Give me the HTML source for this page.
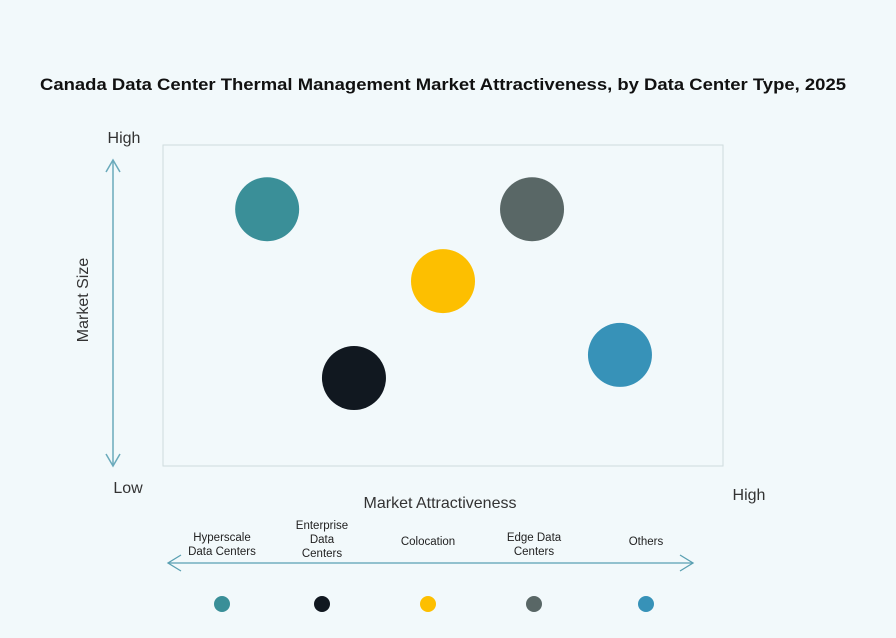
<!DOCTYPE html>
<html><head><meta charset="utf-8"><style>
body{margin:0;background:#f2f9fb;}
svg{display:block;font-family:"Liberation Sans",sans-serif;}
</style></head><body>
<svg id="c" width="896" height="638" viewBox="0 0 896 638">
<rect width="896" height="638" fill="#f2f9fb"/>
<text x="443" y="90" text-anchor="middle" font-size="16.5" font-weight="bold" fill="#111" textLength="806" lengthAdjust="spacingAndGlyphs">Canada Data Center Thermal Management Market Attractiveness,  by Data Center Type, 2025</text>
<rect x="163" y="145" width="560" height="321" fill="none" stroke="#cfdcde" stroke-width="1"/>
<text x="124" y="143" text-anchor="middle" font-size="16" fill="#333">High</text>
<text x="128" y="493" text-anchor="middle" font-size="16" fill="#333">Low</text>
<text x="749" y="500" text-anchor="middle" font-size="16" fill="#333">High</text>
<g stroke="#6aaabb" stroke-width="1.5" fill="none">
<line x1="113" y1="160" x2="113" y2="466"/><polyline points="106,172 113,160 120,172"/><polyline points="106,454 113,466 120,454"/></g>
<text transform="translate(88,300) rotate(-90)" text-anchor="middle" font-size="16" fill="#333">Market Size</text>
<text x="440" y="508" text-anchor="middle" font-size="16" fill="#333">Market Attractiveness</text>
<g stroke="#5aa0b2" stroke-width="1.3" fill="none">
<line x1="168" y1="563" x2="693" y2="563"/><polyline points="181,555 168,563 181,571"/><polyline points="680,555 693,563 680,571"/></g>
<g id="bubbles"></g><g id="legend"></g>
</svg>
<script>
const categories=["Hyperscale Data Centers","Enterprise Data Centers","Colocation","Edge Data Centers","Others"];
const xValues=[1.86,3.41,5.0,6.59,8.16];
const yValues=[8.0,2.74,5.76,8.0,3.46];
const colors=["#3a8f98","#111820","#fdbf00","#596766","#3792b8"];
const legendLines=[["Hyperscale","Data Centers"],["Enterprise","Data","Centers"],["Colocation"],["Edge Data","Centers"],["Others"]];
const legendX=[222,322,428,534,646];
const ns="http://www.w3.org/2000/svg";
function xs(v){return 163+v*56;}
function ys(v){return 466-v*32.1;}
const gb=document.getElementById('bubbles'),gl=document.getElementById('legend');
categories.forEach((c,i)=>{
 const b=document.createElementNS(ns,'circle');
 b.setAttribute('cx',xs(xValues[i]));b.setAttribute('cy',ys(yValues[i]));b.setAttribute('r',32);b.setAttribute('fill',colors[i]);
 
 
 gb.appendChild(b);
 const d=document.createElementNS(ns,'circle');
 d.setAttribute('cx',legendX[i]);d.setAttribute('cy',604);d.setAttribute('r',8);d.setAttribute('fill',colors[i]);
 
 
 gl.appendChild(d);
 const t=document.createElementNS(ns,'text');
 t.setAttribute('text-anchor','middle');t.setAttribute('font-size','11.5');t.setAttribute('fill','#222');
 
 
 const lines=legendLines[i];const base=lines.length===3?529:(lines.length===2?541:545);
 lines.forEach((l,k)=>{const s=document.createElementNS(ns,'tspan');s.setAttribute('x',legendX[i]);s.setAttribute('y',base+k*14);s.textContent=l;t.appendChild(s);});
 gl.appendChild(t);
});
</script>
</body></html>
